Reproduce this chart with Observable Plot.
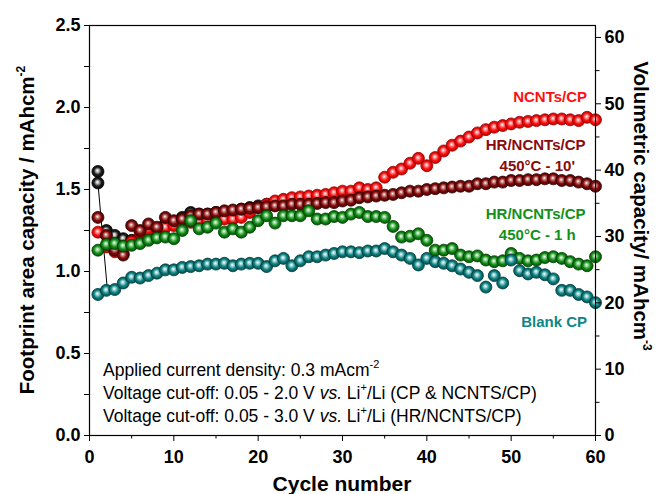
<!DOCTYPE html>
<html><head><meta charset="utf-8">
<script src="https://cdn.jsdelivr.net/npm/d3@7"></script>
<script src="https://cdn.jsdelivr.net/npm/@observablehq/plot@0.6"></script>
<style>
body{margin:0;background:#fff}
svg{font-family:"Liberation Sans",Arial,sans-serif;}
</style>
</head><body><div id="chart"></div>
<script>
// ---------- data ----------
const cycles = [1,2,3,4,5,6,7,8,9,10,11,12,13,14,15,16,17,18,19,20,21,22,23,24,25,26,27,28,29,30,
  31,32,33,34,35,36,37,38,39,40,41,42,43,44,45,46,47,48,49,50,51,52,53,54,55,56,57,58,59,60];

const ncnts = [1.24,1.15,1.12,1.11,1.18,1.24,1.26,1.26,1.27,1.28,1.29,1.30,1.31,1.31,1.32,1.32,1.32,1.33,1.36,1.39,
  1.41,1.43,1.44,1.45,1.455,1.46,1.465,1.47,1.48,1.49,1.49,1.51,1.50,1.51,1.575,1.605,1.625,1.66,1.69,1.645,
  1.695,1.735,1.77,1.795,1.82,1.845,1.865,1.88,1.89,1.90,1.91,1.915,1.92,1.925,1.93,1.93,1.925,1.92,1.94,1.925];

const hr10 = [1.33,1.22,1.13,1.10,1.28,1.25,1.29,1.27,1.33,1.31,1.32,1.34,1.35,1.35,1.36,1.37,1.375,1.38,1.385,1.39,
  1.395,1.40,1.40,1.41,1.41,1.41,1.415,1.42,1.42,1.43,1.435,1.45,1.455,1.46,1.465,1.47,1.48,1.49,1.49,1.50,
  1.505,1.51,1.515,1.52,1.52,1.535,1.535,1.545,1.545,1.555,1.555,1.56,1.56,1.565,1.565,1.555,1.555,1.545,1.535,1.52];

const hr1h = [1.13,1.165,1.17,1.155,1.16,1.17,1.19,1.205,1.21,1.20,1.25,1.31,1.26,1.27,1.295,1.24,1.26,1.24,1.27,1.31,
  1.34,1.295,1.34,1.34,1.34,1.37,1.32,1.32,1.335,1.33,1.35,1.36,1.335,1.335,1.33,1.275,1.21,1.215,1.23,1.19,
  1.13,1.13,1.14,1.10,1.09,1.095,1.07,1.06,1.065,1.11,1.08,1.065,1.07,1.085,1.09,1.08,1.06,1.045,1.035,1.09];

const blank = [0.86,0.885,0.89,0.93,0.965,0.96,0.975,0.99,1.01,1.01,1.025,1.03,1.035,1.045,1.045,1.05,1.035,1.045,1.05,1.05,
  1.03,1.065,1.08,1.035,1.065,1.09,1.09,1.10,1.11,1.12,1.12,1.115,1.125,1.125,1.14,1.12,1.10,1.08,1.04,1.08,
  1.06,1.05,1.035,1.015,0.995,0.975,0.905,0.975,0.93,1.07,1.005,0.985,0.995,0.98,0.955,0.885,0.885,0.86,0.845,0.81];

// first-cycle series drawn in black (mostly hidden underneath)
const firstCycles = [1,1,2,3,4,5,6,7,8,9,10,11,12,13,14,15,16,17,18,19,20,21,22,23,24,25,26,27,28,29,30];
const firstValues = [1.61,1.54,1.25,1.22,1.20,1.19,1.21,1.23,1.26,1.29,1.30,1.33,1.36,1.35,1.35,1.36,1.35,1.36,1.38,1.39,
  1.40,1.41,1.41,1.42,1.42,1.42,1.43,1.43,1.43,1.43,1.44];
const linkCycles = [1, 2.1];
const linkValues = [1.54, 0.90];

const leftTicks = [0, 0.5, 1.0, 1.5, 2.0, 2.5];
const leftMinor = [0.25, 0.75, 1.25, 1.75, 2.25];
const xTicks = [0, 10, 20, 30, 40, 50, 60];
const xMinor = [5, 15, 25, 35, 45, 55];
const rightTicks = [0, 10, 20, 30, 40, 50, 60];
const rightMinor = [5, 15, 25, 35, 45, 55];
const VOL_MAX = 61.8; // right-axis value at the top of the frame

// ---------- build ----------
const rows = (vals, xs = cycles) => vals.map((v, i) => ({cycle: xs[i], value: v}));
const series = [
  {id: "black", data: rows(firstValues, firstCycles), base: "#202020", light: "#bdbdbd", dark: "#000000"},
  {id: "red", data: rows(ncnts), base: "#ff1010", light: "#ff9a9a", dark: "#a00000"},
  {id: "maroon", data: rows(hr10), base: "#8a0a0a", light: "#c98a8a", dark: "#300000"},
  {id: "green", data: rows(hr1h), base: "#14901a", light: "#9ad79c", dark: "#004000"},
  {id: "teal", data: rows(blank), base: "#0f8686", light: "#a3d6d6", dark: "#003c3c"}
];
const toLeft = v => v / VOL_MAX * 2.5;
const bold = {fontSize: 18, fontWeight: "bold", fill: "#000"};

const plot = Plot.plot({
  width: 659, height: 494,
  marginLeft: 89, marginRight: 64, marginTop: 25, marginBottom: 59,
  x: {domain: [0, 60]},
  y: {domain: [0, 2.5]},
  marks: [
    Plot.line(rows(linkValues, linkCycles), {x: "cycle", y: "value", stroke: "#000", strokeWidth: 1}),
    ...series.map(s => Plot.dot(s.data, {x: "cycle", y: "value", r: 6, fill: `url(#g-${s.id})`, stroke: s.dark, strokeWidth: 0.8})),
    Plot.frame({stroke: "#000", strokeWidth: 1.2}),
    Plot.axisX({ticks: xTicks, tickSize: 6, tickPadding: 9, tickFormat: d => d, label: null, ...bold}),
    Plot.axisX({ticks: xMinor, tickSize: 3.5, fill: "none", label: null}),
    Plot.axisY({ticks: leftTicks, tickSize: 5, tickPadding: 4, tickFormat: d3.format(".1f"), label: null, ...bold}),
    Plot.axisY({ticks: leftMinor, tickSize: 5, fill: "none", label: null}),
    Plot.axisY({anchor: "right", ticks: rightTicks.map(toLeft), tickSize: 5, tickPadding: 4,
      tickFormat: d => Math.round(d * VOL_MAX / 2.5), label: null, ...bold}),
    Plot.axisY({anchor: "right", ticks: rightMinor.map(toLeft), tickSize: 3.5, fill: "none", label: null}),
    Plot.text(["NCNTs/CP"], {x: 59, y: 2.061, text: d => d, textAnchor: "end", fill: "#ff1010", fontSize: 15, fontWeight: "bold"}),
    Plot.text(["HR/NCNTs/CP"], {x: 52.9, y: 1.768, text: d => d, fill: "#8a0a0a", fontSize: 15, fontWeight: "bold"}),
    Plot.text(["450°C - 10'"], {x: 53.1, y: 1.640, text: d => d, fill: "#8a0a0a", fontSize: 15, fontWeight: "bold"}),
    Plot.text(["HR/NCNTs/CP"], {x: 52.9, y: 1.348, text: d => d, fill: "#14901a", fontSize: 15, fontWeight: "bold"}),
    Plot.text(["450°C - 1 h"], {x: 53.1, y: 1.220, text: d => d, fill: "#14901a", fontSize: 15, fontWeight: "bold"}),
    Plot.text(["Blank CP"], {x: 59, y: 0.689, text: d => d, textAnchor: "end", fill: "#0f8686", fontSize: 15, fontWeight: "bold"})
  ]
});

// sphere gradients
const svg = d3.select(plot);
const defs = svg.insert("defs", ":first-child");
for (const s of series) {
  const g = defs.append("radialGradient").attr("id", `g-${s.id}`)
    .attr("cx", "0.5").attr("cy", "0.5").attr("r", "0.55").attr("fx", "0.45").attr("fy", "0.42");
  g.append("stop").attr("offset", "0").attr("stop-color", "#ffffff");
  g.append("stop").attr("offset", "0.22").attr("stop-color", s.light);
  g.append("stop").attr("offset", "0.55").attr("stop-color", s.base);
  g.append("stop").attr("offset", "1").attr("stop-color", s.dark);
}

// axis titles
const t1 = svg.append("text").attr("transform", "translate(34,230) rotate(-90)")
  .attr("text-anchor", "middle").attr("font-size", 20.5).attr("font-weight", "bold").attr("fill", "#000");
t1.append("tspan").text("Footprint area capacity / mAhcm");
t1.append("tspan").attr("dy", -9).attr("font-size", 12).text("-2");

const t2 = svg.append("text").attr("transform", "translate(634,206) rotate(90)")
  .attr("text-anchor", "middle").attr("font-size", 20.5).attr("font-weight", "bold").attr("fill", "#000");
t2.append("tspan").text("Volumetric capacity/ mAhcm");
t2.append("tspan").attr("dy", -9).attr("font-size", 12).text("-3");

svg.append("text").attr("x", 342).attr("y", 491).attr("text-anchor", "middle")
  .attr("font-size", 21).attr("font-weight", "bold").attr("fill", "#000").text("Cycle number");

// conditions note
const note = svg.append("g").attr("font-size", 17.5).attr("fill", "#000").attr("text-anchor", "start");
const l1 = note.append("text").attr("x", 103).attr("y", 376);
l1.append("tspan").text("Applied current density: 0.3 mAcm");
l1.append("tspan").attr("dy", -8).attr("font-size", 11).text("-2");
const l2 = note.append("text").attr("x", 103).attr("y", 399);
l2.append("tspan").text("Voltage cut-off: 0.05 - 2.0 V ");
l2.append("tspan").attr("font-style", "italic").text("vs.");
l2.append("tspan").text(" Li");
l2.append("tspan").attr("dy", -8).attr("font-size", 11).text("+");
l2.append("tspan").attr("dy", 8).text("/Li (CP & NCNTS/CP)");
const l3 = note.append("text").attr("x", 103).attr("y", 422);
l3.append("tspan").text("Voltage cut-off: 0.05 - 3.0 V ");
l3.append("tspan").attr("font-style", "italic").text("vs.");
l3.append("tspan").text(" Li");
l3.append("tspan").attr("dy", -8).attr("font-size", 11).text("+");
l3.append("tspan").attr("dy", 8).text("/Li (HR/NCNTS/CP)");

document.getElementById("chart").appendChild(plot);
</script>
</body></html>
